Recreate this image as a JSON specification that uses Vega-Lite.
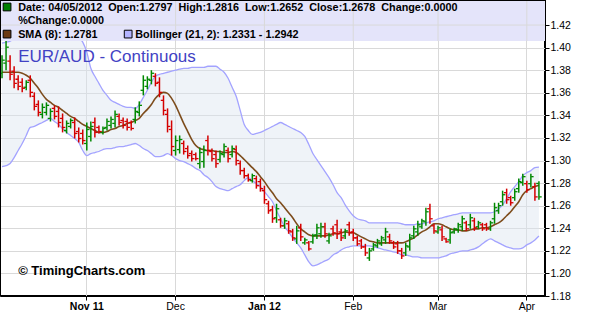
{
"$schema":"https://vega.github.io/schema/vega-lite/v6.json",
"width":545,"height":296,"autosize":"none",
"padding":{"left":0,"top":0,"right":47,"bottom":36},
"background":"#ffffff",
"config":{"font":"Liberation Sans","view":{"stroke":"#000000","strokeWidth":2},
 "axisX":{"labelAngle":0,"labelFontSize":10.5,"labelColor":"#000000","labelPadding":1,"tickColor":"#000000","tickSize":4,"domainColor":"#000000","gridColor":"#d9d9d9","bandPosition":0.5},
 "axisY":{"labelFontSize":10.5,"labelColor":"#000000","labelPadding":1,"tickColor":"#000000","tickSize":4,"domainColor":"#000000","gridColor":"#d9d9d9"}},
"datasets":{"bars":[
{"d":"2011-10-03","k":"u","o":1.3773,"h":1.3933,"l":1.3729,"c":1.3889,"s":1.3782,"bu":1.4040,"bl":1.2946},
{"d":"2011-10-04","k":"u","o":1.3862,"h":1.4075,"l":1.3800,"c":1.4004,"s":1.3782,"bu":1.4049,"bl":1.2955},
{"d":"2011-10-05","k":"d","o":1.3880,"h":1.3933,"l":1.3711,"c":1.3764,"s":1.3782,"bu":1.4057,"bl":1.2973},
{"d":"2011-10-06","k":"d","o":1.3791,"h":1.3835,"l":1.3640,"c":1.3684,"s":1.3782,"bu":1.4084,"bl":1.3026},
{"d":"2011-10-07","k":"d","o":1.3720,"h":1.3755,"l":1.3622,"c":1.3657,"s":1.3782,"bu":1.4093,"bl":1.3089},
{"d":"2011-10-10","k":"d","o":1.3693,"h":1.3729,"l":1.3604,"c":1.3640,"s":1.3773,"bu":1.4102,"bl":1.3151},
{"d":"2011-10-11","k":"u","o":1.3649,"h":1.3711,"l":1.3622,"c":1.3693,"s":1.3755,"bu":1.4120,"bl":1.3222},
{"d":"2011-10-12","k":"d","o":1.3711,"h":1.3755,"l":1.3560,"c":1.3604,"s":1.3729,"bu":1.4129,"bl":1.3293},
{"d":"2011-10-13","k":"d","o":1.3569,"h":1.3604,"l":1.3444,"c":1.3480,"s":1.3684,"bu":1.4138,"bl":1.3302},
{"d":"2011-10-14","k":"d","o":1.3497,"h":1.3533,"l":1.3391,"c":1.3426,"s":1.3640,"bu":1.4146,"bl":1.3320},
{"d":"2011-10-17","k":"u","o":1.3409,"h":1.3506,"l":1.3373,"c":1.3471,"s":1.3586,"bu":1.4146,"bl":1.3337},
{"d":"2011-10-18","k":"u","o":1.3426,"h":1.3515,"l":1.3400,"c":1.3489,"s":1.3542,"bu":1.4155,"bl":1.3355},
{"d":"2011-10-19","k":"u","o":1.3373,"h":1.3462,"l":1.3346,"c":1.3435,"s":1.3515,"bu":1.4155,"bl":1.3373},
{"d":"2011-10-20","k":"d","o":1.3462,"h":1.3489,"l":1.3364,"c":1.3391,"s":1.3489,"bu":1.4155,"bl":1.3346},
{"d":"2011-10-21","k":"d","o":1.3435,"h":1.3480,"l":1.3293,"c":1.3337,"s":1.3471,"bu":1.4146,"bl":1.3320},
{"d":"2011-10-24","k":"d","o":1.3373,"h":1.3417,"l":1.3249,"c":1.3293,"s":1.3444,"bu":1.4138,"bl":1.3284},
{"d":"2011-10-25","k":"u","o":1.3266,"h":1.3355,"l":1.3240,"c":1.3329,"s":1.3417,"bu":1.4138,"bl":1.3249},
{"d":"2011-10-26","k":"u","o":1.3302,"h":1.3373,"l":1.3284,"c":1.3355,"s":1.3391,"bu":1.4129,"bl":1.3222},
{"d":"2011-10-27","k":"d","o":1.3337,"h":1.3382,"l":1.3195,"c":1.3240,"s":1.3373,"bu":1.4111,"bl":1.3195},
{"d":"2011-10-28","k":"d","o":1.3257,"h":1.3293,"l":1.3160,"c":1.3195,"s":1.3346,"bu":1.4093,"bl":1.3160},
{"d":"2011-10-31","k":"d","o":1.3240,"h":1.3275,"l":1.3142,"c":1.3177,"s":1.3320,"bu":1.4049,"bl":1.3089},
{"d":"2011-11-01","k":"u","o":1.3151,"h":1.3337,"l":1.3089,"c":1.3275,"s":1.3302,"bu":1.3960,"bl":1.3044},
{"d":"2011-11-02","k":"u","o":1.3213,"h":1.3346,"l":1.3169,"c":1.3302,"s":1.3284,"bu":1.3817,"bl":1.3062},
{"d":"2011-11-03","k":"d","o":1.3337,"h":1.3382,"l":1.3204,"c":1.3249,"s":1.3266,"bu":1.3746,"bl":1.3071},
{"d":"2011-11-04","k":"d","o":1.3293,"h":1.3311,"l":1.3240,"c":1.3257,"s":1.3249,"bu":1.3684,"bl":1.3080},
{"d":"2011-11-07","k":"u","o":1.3249,"h":1.3302,"l":1.3231,"c":1.3284,"s":1.3249,"bu":1.3622,"bl":1.3097},
{"d":"2011-11-08","k":"u","o":1.3293,"h":1.3373,"l":1.3266,"c":1.3346,"s":1.3257,"bu":1.3577,"bl":1.3106},
{"d":"2011-11-09","k":"u","o":1.3311,"h":1.3391,"l":1.3284,"c":1.3364,"s":1.3275,"bu":1.3533,"bl":1.3106},
{"d":"2011-11-10","k":"u","o":1.3329,"h":1.3444,"l":1.3293,"c":1.3409,"s":1.3284,"bu":1.3515,"bl":1.3115},
{"d":"2011-11-11","k":"d","o":1.3391,"h":1.3417,"l":1.3311,"c":1.3337,"s":1.3302,"bu":1.3497,"bl":1.3124},
{"d":"2011-11-14","k":"d","o":1.3355,"h":1.3382,"l":1.3284,"c":1.3311,"s":1.3311,"bu":1.3480,"bl":1.3124},
{"d":"2011-11-15","k":"d","o":1.3346,"h":1.3373,"l":1.3266,"c":1.3293,"s":1.3329,"bu":1.3471,"bl":1.3133},
{"d":"2011-11-16","k":"d","o":1.3337,"h":1.3355,"l":1.3266,"c":1.3284,"s":1.3337,"bu":1.3471,"bl":1.3142},
{"d":"2011-11-17","k":"u","o":1.3364,"h":1.3471,"l":1.3329,"c":1.3435,"s":1.3355,"bu":1.3462,"bl":1.3151},
{"d":"2011-11-18","k":"u","o":1.3426,"h":1.3524,"l":1.3391,"c":1.3489,"s":1.3373,"bu":1.3497,"bl":1.3133},
{"d":"2011-11-21","k":"u","o":1.3622,"h":1.3755,"l":1.3577,"c":1.3711,"s":1.3417,"bu":1.3560,"bl":1.3106},
{"d":"2011-11-22","k":"u","o":1.3657,"h":1.3746,"l":1.3631,"c":1.3720,"s":1.3453,"bu":1.3622,"bl":1.3089},
{"d":"2011-11-23","k":"u","o":1.3711,"h":1.3800,"l":1.3675,"c":1.3773,"s":1.3497,"bu":1.3693,"bl":1.3062},
{"d":"2011-11-24","k":"d","o":1.3746,"h":1.3773,"l":1.3657,"c":1.3684,"s":1.3551,"bu":1.3746,"bl":1.3035},
{"d":"2011-11-25","k":"d","o":1.3693,"h":1.3737,"l":1.3560,"c":1.3604,"s":1.3586,"bu":1.3764,"bl":1.3035},
{"d":"2011-11-28","k":"d","o":1.3533,"h":1.3577,"l":1.3400,"c":1.3444,"s":1.3604,"bu":1.3773,"bl":1.3044},
{"d":"2011-11-29","k":"d","o":1.3409,"h":1.3462,"l":1.3249,"c":1.3302,"s":1.3595,"bu":1.3782,"bl":1.3062},
{"d":"2011-11-30","k":"d","o":1.3275,"h":1.3355,"l":1.3044,"c":1.3124,"s":1.3551,"bu":1.3791,"bl":1.3044},
{"d":"2011-12-01","k":"u","o":1.3089,"h":1.3222,"l":1.3044,"c":1.3177,"s":1.3489,"bu":1.3800,"bl":1.3017},
{"d":"2011-12-02","k":"u","o":1.3097,"h":1.3222,"l":1.3062,"c":1.3186,"s":1.3409,"bu":1.3809,"bl":1.3000},
{"d":"2011-12-05","k":"d","o":1.3151,"h":1.3177,"l":1.3053,"c":1.3080,"s":1.3329,"bu":1.3817,"bl":1.2991},
{"d":"2011-12-06","k":"d","o":1.3106,"h":1.3133,"l":1.3017,"c":1.3044,"s":1.3257,"bu":1.3817,"bl":1.2973},
{"d":"2011-12-07","k":"d","o":1.3062,"h":1.3089,"l":1.2991,"c":1.3017,"s":1.3186,"bu":1.3826,"bl":1.2955},
{"d":"2011-12-08","k":"d","o":1.3053,"h":1.3071,"l":1.3000,"c":1.3017,"s":1.3133,"bu":1.3826,"bl":1.2929},
{"d":"2011-12-09","k":"u","o":1.2973,"h":1.3115,"l":1.2929,"c":1.3071,"s":1.3106,"bu":1.3826,"bl":1.2911},
{"d":"2011-12-12","k":"u","o":1.2991,"h":1.3133,"l":1.2937,"c":1.3089,"s":1.3097,"bu":1.3826,"bl":1.2875},
{"d":"2011-12-13","k":"d","o":1.3177,"h":1.3222,"l":1.3044,"c":1.3089,"s":1.3089,"bu":1.3835,"bl":1.2849},
{"d":"2011-12-14","k":"d","o":1.3080,"h":1.3106,"l":1.2991,"c":1.3017,"s":1.3089,"bu":1.3835,"bl":1.2813},
{"d":"2011-12-15","k":"d","o":1.3053,"h":1.3089,"l":1.2937,"c":1.2973,"s":1.3080,"bu":1.3835,"bl":1.2769},
{"d":"2011-12-16","k":"u","o":1.3009,"h":1.3089,"l":1.2982,"c":1.3062,"s":1.3080,"bu":1.3809,"bl":1.2751},
{"d":"2011-12-19","k":"u","o":1.3053,"h":1.3151,"l":1.3026,"c":1.3124,"s":1.3071,"bu":1.3782,"bl":1.2742},
{"d":"2011-12-20","k":"d","o":1.3089,"h":1.3115,"l":1.2982,"c":1.3017,"s":1.3071,"bu":1.3729,"bl":1.2733},
{"d":"2011-12-21","k":"u","o":1.3053,"h":1.3133,"l":1.3026,"c":1.3106,"s":1.3080,"bu":1.3649,"bl":1.2751},
{"d":"2011-12-22","k":"d","o":1.3097,"h":1.3133,"l":1.2955,"c":1.3000,"s":1.3071,"bu":1.3569,"bl":1.2769},
{"d":"2011-12-23","k":"d","o":1.2973,"h":1.3000,"l":1.2875,"c":1.2911,"s":1.3044,"bu":1.3444,"bl":1.2786},
{"d":"2011-12-26","k":"d","o":1.2911,"h":1.2937,"l":1.2840,"c":1.2866,"s":1.3009,"bu":1.3320,"bl":1.2822},
{"d":"2011-12-27","k":"d","o":1.2866,"h":1.2884,"l":1.2813,"c":1.2831,"s":1.2973,"bu":1.3266,"bl":1.2849},
{"d":"2011-12-28","k":"u","o":1.2822,"h":1.2884,"l":1.2804,"c":1.2866,"s":1.2937,"bu":1.3231,"bl":1.2822},
{"d":"2011-12-29","k":"d","o":1.2840,"h":1.2866,"l":1.2751,"c":1.2777,"s":1.2902,"bu":1.3240,"bl":1.2795},
{"d":"2011-12-30","k":"d","o":1.2813,"h":1.2840,"l":1.2724,"c":1.2751,"s":1.2857,"bu":1.3249,"bl":1.2769},
{"d":"2012-01-02","k":"d","o":1.2733,"h":1.2777,"l":1.2617,"c":1.2653,"s":1.2813,"bu":1.3266,"bl":1.2724},
{"d":"2012-01-03","k":"d","o":1.2617,"h":1.2644,"l":1.2528,"c":1.2555,"s":1.2760,"bu":1.3284,"bl":1.2680},
{"d":"2012-01-04","k":"d","o":1.2564,"h":1.2600,"l":1.2448,"c":1.2484,"s":1.2715,"bu":1.3302,"bl":1.2635},
{"d":"2012-01-05","k":"u","o":1.2493,"h":1.2617,"l":1.2448,"c":1.2573,"s":1.2662,"bu":1.3320,"bl":1.2555},
{"d":"2012-01-06","k":"d","o":1.2475,"h":1.2493,"l":1.2404,"c":1.2422,"s":1.2626,"bu":1.3337,"bl":1.2484},
{"d":"2012-01-09","k":"u","o":1.2422,"h":1.2493,"l":1.2395,"c":1.2466,"s":1.2582,"bu":1.3320,"bl":1.2413},
{"d":"2012-01-10","k":"d","o":1.2440,"h":1.2466,"l":1.2351,"c":1.2377,"s":1.2537,"bu":1.3302,"bl":1.2368},
{"d":"2012-01-11","k":"d","o":1.2368,"h":1.2395,"l":1.2288,"c":1.2315,"s":1.2493,"bu":1.3284,"bl":1.2315},
{"d":"2012-01-12","k":"u","o":1.2306,"h":1.2422,"l":1.2262,"c":1.2377,"s":1.2440,"bu":1.3266,"bl":1.2271},
{"d":"2012-01-13","k":"d","o":1.2404,"h":1.2440,"l":1.2288,"c":1.2324,"s":1.2395,"bu":1.3249,"bl":1.2226},
{"d":"2012-01-16","k":"u","o":1.2271,"h":1.2315,"l":1.2253,"c":1.2297,"s":1.2368,"bu":1.3213,"bl":1.2164},
{"d":"2012-01-17","k":"d","o":1.2271,"h":1.2288,"l":1.2200,"c":1.2217,"s":1.2342,"bu":1.3142,"bl":1.2102},
{"d":"2012-01-18","k":"u","o":1.2280,"h":1.2351,"l":1.2262,"c":1.2333,"s":1.2333,"bu":1.3062,"bl":1.2066},
{"d":"2012-01-19","k":"u","o":1.2342,"h":1.2440,"l":1.2306,"c":1.2404,"s":1.2333,"bu":1.3009,"bl":1.2075},
{"d":"2012-01-20","k":"u","o":1.2351,"h":1.2448,"l":1.2315,"c":1.2413,"s":1.2333,"bu":1.2955,"bl":1.2093},
{"d":"2012-01-23","k":"d","o":1.2413,"h":1.2448,"l":1.2315,"c":1.2351,"s":1.2333,"bu":1.2902,"bl":1.2111},
{"d":"2012-01-24","k":"u","o":1.2288,"h":1.2360,"l":1.2262,"c":1.2333,"s":1.2342,"bu":1.2849,"bl":1.2128},
{"d":"2012-01-25","k":"d","o":1.2395,"h":1.2422,"l":1.2333,"c":1.2360,"s":1.2351,"bu":1.2786,"bl":1.2164},
{"d":"2012-01-26","k":"d","o":1.2431,"h":1.2475,"l":1.2306,"c":1.2351,"s":1.2351,"bu":1.2715,"bl":1.2182},
{"d":"2012-01-27","k":"d","o":1.2368,"h":1.2395,"l":1.2288,"c":1.2315,"s":1.2360,"bu":1.2671,"bl":1.2208},
{"d":"2012-01-30","k":"u","o":1.2333,"h":1.2395,"l":1.2306,"c":1.2377,"s":1.2368,"bu":1.2608,"bl":1.2226},
{"d":"2012-01-31","k":"d","o":1.2431,"h":1.2457,"l":1.2333,"c":1.2360,"s":1.2360,"bu":1.2555,"bl":1.2235},
{"d":"2012-02-01","k":"d","o":1.2368,"h":1.2395,"l":1.2288,"c":1.2315,"s":1.2360,"bu":1.2511,"bl":1.2244},
{"d":"2012-02-02","k":"d","o":1.2315,"h":1.2333,"l":1.2244,"c":1.2262,"s":1.2342,"bu":1.2484,"bl":1.2244},
{"d":"2012-02-03","k":"d","o":1.2288,"h":1.2306,"l":1.2217,"c":1.2235,"s":1.2324,"bu":1.2475,"bl":1.2244},
{"d":"2012-02-06","k":"d","o":1.2235,"h":1.2262,"l":1.2155,"c":1.2182,"s":1.2306,"bu":1.2466,"bl":1.2244},
{"d":"2012-02-07","k":"u","o":1.2137,"h":1.2226,"l":1.2111,"c":1.2200,"s":1.2288,"bu":1.2448,"bl":1.2244},
{"d":"2012-02-08","k":"u","o":1.2217,"h":1.2271,"l":1.2200,"c":1.2253,"s":1.2280,"bu":1.2448,"bl":1.2235},
{"d":"2012-02-09","k":"u","o":1.2244,"h":1.2306,"l":1.2226,"c":1.2288,"s":1.2271,"bu":1.2448,"bl":1.2226},
{"d":"2012-02-10","k":"u","o":1.2262,"h":1.2333,"l":1.2244,"c":1.2315,"s":1.2271,"bu":1.2448,"bl":1.2217},
{"d":"2012-02-13","k":"u","o":1.2297,"h":1.2404,"l":1.2262,"c":1.2368,"s":1.2271,"bu":1.2448,"bl":1.2208},
{"d":"2012-02-14","k":"d","o":1.2324,"h":1.2351,"l":1.2262,"c":1.2288,"s":1.2271,"bu":1.2448,"bl":1.2200},
{"d":"2012-02-15","k":"d","o":1.2271,"h":1.2288,"l":1.2217,"c":1.2235,"s":1.2271,"bu":1.2448,"bl":1.2191},
{"d":"2012-02-16","k":"d","o":1.2262,"h":1.2288,"l":1.2173,"c":1.2200,"s":1.2271,"bu":1.2448,"bl":1.2182},
{"d":"2012-02-17","k":"d","o":1.2200,"h":1.2226,"l":1.2128,"c":1.2155,"s":1.2271,"bu":1.2440,"bl":1.2164},
{"d":"2012-02-20","k":"u","o":1.2182,"h":1.2271,"l":1.2155,"c":1.2244,"s":1.2280,"bu":1.2431,"bl":1.2164},
{"d":"2012-02-21","k":"u","o":1.2235,"h":1.2351,"l":1.2200,"c":1.2315,"s":1.2297,"bu":1.2431,"bl":1.2155},
{"d":"2012-02-22","k":"u","o":1.2333,"h":1.2422,"l":1.2306,"c":1.2395,"s":1.2315,"bu":1.2431,"bl":1.2146},
{"d":"2012-02-23","k":"u","o":1.2368,"h":1.2466,"l":1.2333,"c":1.2431,"s":1.2342,"bu":1.2440,"bl":1.2146},
{"d":"2012-02-24","k":"u","o":1.2413,"h":1.2484,"l":1.2395,"c":1.2466,"s":1.2368,"bu":1.2440,"bl":1.2137},
{"d":"2012-02-27","k":"u","o":1.2457,"h":1.2582,"l":1.2422,"c":1.2546,"s":1.2386,"bu":1.2448,"bl":1.2137},
{"d":"2012-02-28","k":"d","o":1.2573,"h":1.2617,"l":1.2440,"c":1.2484,"s":1.2413,"bu":1.2457,"bl":1.2137},
{"d":"2012-02-29","k":"d","o":1.2422,"h":1.2440,"l":1.2351,"c":1.2377,"s":1.2440,"bu":1.2466,"bl":1.2137},
{"d":"2012-03-01","k":"u","o":1.2368,"h":1.2422,"l":1.2351,"c":1.2404,"s":1.2440,"bu":1.2484,"bl":1.2137},
{"d":"2012-03-02","k":"d","o":1.2386,"h":1.2422,"l":1.2288,"c":1.2324,"s":1.2431,"bu":1.2493,"bl":1.2146},
{"d":"2012-03-05","k":"d","o":1.2306,"h":1.2315,"l":1.2271,"c":1.2280,"s":1.2413,"bu":1.2502,"bl":1.2155},
{"d":"2012-03-06","k":"u","o":1.2297,"h":1.2395,"l":1.2262,"c":1.2360,"s":1.2395,"bu":1.2511,"bl":1.2173},
{"d":"2012-03-07","k":"u","o":1.2368,"h":1.2404,"l":1.2351,"c":1.2395,"s":1.2386,"bu":1.2520,"bl":1.2182},
{"d":"2012-03-08","k":"u","o":1.2386,"h":1.2448,"l":1.2360,"c":1.2431,"s":1.2386,"bu":1.2528,"bl":1.2191},
{"d":"2012-03-09","k":"u","o":1.2413,"h":1.2511,"l":1.2377,"c":1.2484,"s":1.2377,"bu":1.2537,"bl":1.2200},
{"d":"2012-03-12","k":"d","o":1.2448,"h":1.2466,"l":1.2377,"c":1.2395,"s":1.2377,"bu":1.2537,"bl":1.2200},
{"d":"2012-03-13","k":"u","o":1.2431,"h":1.2528,"l":1.2395,"c":1.2493,"s":1.2386,"bu":1.2537,"bl":1.2208},
{"d":"2012-03-14","k":"d","o":1.2466,"h":1.2493,"l":1.2377,"c":1.2404,"s":1.2395,"bu":1.2537,"bl":1.2217},
{"d":"2012-03-15","k":"u","o":1.2413,"h":1.2466,"l":1.2395,"c":1.2448,"s":1.2395,"bu":1.2537,"bl":1.2235},
{"d":"2012-03-16","k":"d","o":1.2431,"h":1.2448,"l":1.2377,"c":1.2395,"s":1.2404,"bu":1.2537,"bl":1.2262},
{"d":"2012-03-19","k":"d","o":1.2431,"h":1.2448,"l":1.2377,"c":1.2395,"s":1.2404,"bu":1.2537,"bl":1.2288},
{"d":"2012-03-20","k":"u","o":1.2395,"h":1.2466,"l":1.2377,"c":1.2448,"s":1.2413,"bu":1.2537,"bl":1.2306},
{"d":"2012-03-21","k":"u","o":1.2484,"h":1.2626,"l":1.2440,"c":1.2582,"s":1.2431,"bu":1.2546,"bl":1.2288},
{"d":"2012-03-22","k":"u","o":1.2555,"h":1.2626,"l":1.2528,"c":1.2600,"s":1.2448,"bu":1.2573,"bl":1.2271},
{"d":"2012-03-23","k":"u","o":1.2635,"h":1.2733,"l":1.2600,"c":1.2697,"s":1.2475,"bu":1.2608,"bl":1.2253},
{"d":"2012-03-26","k":"d","o":1.2715,"h":1.2751,"l":1.2617,"c":1.2653,"s":1.2511,"bu":1.2662,"bl":1.2235},
{"d":"2012-03-27","k":"d","o":1.2671,"h":1.2688,"l":1.2600,"c":1.2626,"s":1.2546,"bu":1.2724,"bl":1.2226},
{"d":"2012-03-28","k":"u","o":1.2671,"h":1.2751,"l":1.2644,"c":1.2724,"s":1.2591,"bu":1.2769,"bl":1.2217},
{"d":"2012-03-29","k":"u","o":1.2751,"h":1.2840,"l":1.2715,"c":1.2813,"s":1.2635,"bu":1.2813,"bl":1.2217},
{"d":"2012-03-30","k":"u","o":1.2804,"h":1.2884,"l":1.2777,"c":1.2857,"s":1.2697,"bu":1.2866,"bl":1.2226},
{"d":"2012-04-02","k":"d","o":1.2795,"h":1.2822,"l":1.2715,"c":1.2742,"s":1.2733,"bu":1.2893,"bl":1.2253},
{"d":"2012-04-03","k":"u","o":1.2795,"h":1.2884,"l":1.2760,"c":1.2857,"s":1.2751,"bu":1.2911,"bl":1.2271},
{"d":"2012-04-04","k":"d","o":1.2769,"h":1.2804,"l":1.2644,"c":1.2678,"s":1.2769,"bu":1.2937,"bl":1.2297},
{"d":"2012-04-05","k":"u","o":1.2797,"h":1.2816,"l":1.2652,"c":1.2678,"s":1.2781,"bu":1.2942,"bl":1.2331}
]},
"layer":[
{"data":{"name":"bars"},"mark":{"type":"area","color":"#dbe4ef","fillOpacity":0.45,"interpolate":"monotone"},
 "encoding":{
  "x":{"field":"d","type":"ordinal","sort":"ascending","bandPosition":0.5,"scale":{"type":"band","paddingInner":0,"paddingOuter":0.5,"align":0,"round":false},
   "axis":{"title":null,"grid":true,"values":["2011-11-01","2011-12-01","2012-01-02","2012-02-01","2012-03-01","2012-04-02"],"labelExpr":"datum.value == '2011-11-01' ? 'Nov 11' : datum.value == '2011-12-01' ? 'Dec' : datum.value == '2012-01-02' ? 'Jan 12' : datum.value == '2012-02-01' ? 'Feb' : datum.value == '2012-03-01' ? 'Mar' : 'Apr'","labelFontWeight":{"condition":{"test":"datum.value == '2011-11-01' || datum.value == '2012-01-02'","value":"bold"},"value":"normal"}}},
  "y":{"field":"bl","type":"quantitative","scale":{"domain":[1.18,1.4422],"nice":false,"zero":false},
   "axis":{"orient":"right","title":null,"grid":true,"values":[1.18,1.2,1.22,1.24,1.26,1.28,1.3,1.32,1.34,1.36,1.38,1.4,1.42],"format":".2f"}},
  "y2":{"field":"bu"}}},
{"data":{"name":"bars"},"mark":{"type":"line","color":"#a3a3ff","strokeWidth":1.3,"interpolate":"monotone"},
 "encoding":{
  "x":{"field":"d","type":"ordinal","sort":"ascending","bandPosition":0.5,"scale":{"type":"band","paddingInner":0,"paddingOuter":0.5,"align":0,"round":false},
   "axis":{"title":null,"grid":true,"values":["2011-11-01","2011-12-01","2012-01-02","2012-02-01","2012-03-01","2012-04-02"],"labelExpr":"datum.value == '2011-11-01' ? 'Nov 11' : datum.value == '2011-12-01' ? 'Dec' : datum.value == '2012-01-02' ? 'Jan 12' : datum.value == '2012-02-01' ? 'Feb' : datum.value == '2012-03-01' ? 'Mar' : 'Apr'","labelFontWeight":{"condition":{"test":"datum.value == '2011-11-01' || datum.value == '2012-01-02'","value":"bold"},"value":"normal"}}},
  "y":{"field":"bu","type":"quantitative","scale":{"domain":[1.18,1.4422],"nice":false,"zero":false},
   "axis":{"orient":"right","title":null,"grid":true,"values":[1.18,1.2,1.22,1.24,1.26,1.28,1.3,1.32,1.34,1.36,1.38,1.4,1.42],"format":".2f"}}}},
{"data":{"name":"bars"},"mark":{"type":"line","color":"#a3a3ff","strokeWidth":1.3,"interpolate":"monotone"},
 "encoding":{
  "x":{"field":"d","type":"ordinal","sort":"ascending","bandPosition":0.5,"scale":{"type":"band","paddingInner":0,"paddingOuter":0.5,"align":0,"round":false},
   "axis":{"title":null,"grid":true,"values":["2011-11-01","2011-12-01","2012-01-02","2012-02-01","2012-03-01","2012-04-02"],"labelExpr":"datum.value == '2011-11-01' ? 'Nov 11' : datum.value == '2011-12-01' ? 'Dec' : datum.value == '2012-01-02' ? 'Jan 12' : datum.value == '2012-02-01' ? 'Feb' : datum.value == '2012-03-01' ? 'Mar' : 'Apr'","labelFontWeight":{"condition":{"test":"datum.value == '2011-11-01' || datum.value == '2012-01-02'","value":"bold"},"value":"normal"}}},
  "y":{"field":"bl","type":"quantitative","scale":{"domain":[1.18,1.4422],"nice":false,"zero":false},
   "axis":{"orient":"right","title":null,"grid":true,"values":[1.18,1.2,1.22,1.24,1.26,1.28,1.3,1.32,1.34,1.36,1.38,1.4,1.42],"format":".2f"}}}},
{"data":{"name":"bars"},"mark":{"type":"line","color":"#7d4c1c","strokeWidth":1.6,"interpolate":"monotone"},
 "encoding":{
  "x":{"field":"d","type":"ordinal","sort":"ascending","bandPosition":0.5,"scale":{"type":"band","paddingInner":0,"paddingOuter":0.5,"align":0,"round":false},
   "axis":{"title":null,"grid":true,"values":["2011-11-01","2011-12-01","2012-01-02","2012-02-01","2012-03-01","2012-04-02"],"labelExpr":"datum.value == '2011-11-01' ? 'Nov 11' : datum.value == '2011-12-01' ? 'Dec' : datum.value == '2012-01-02' ? 'Jan 12' : datum.value == '2012-02-01' ? 'Feb' : datum.value == '2012-03-01' ? 'Mar' : 'Apr'","labelFontWeight":{"condition":{"test":"datum.value == '2011-11-01' || datum.value == '2012-01-02'","value":"bold"},"value":"normal"}}},
  "y":{"field":"s","type":"quantitative","scale":{"domain":[1.18,1.4422],"nice":false,"zero":false},
   "axis":{"orient":"right","title":null,"grid":true,"values":[1.18,1.2,1.22,1.24,1.26,1.28,1.3,1.32,1.34,1.36,1.38,1.4,1.42],"format":".2f"}}}},
{"data":{"name":"bars"},"mark":{"type":"rule","strokeWidth":1.5},
 "encoding":{
  "x":{"field":"d","type":"ordinal","sort":"ascending","scale":{"type":"band","paddingInner":0,"paddingOuter":0.5,"align":0,"round":false},
   "axis":{"title":null,"grid":true,"values":["2011-11-01","2011-12-01","2012-01-02","2012-02-01","2012-03-01","2012-04-02"],"labelExpr":"datum.value == '2011-11-01' ? 'Nov 11' : datum.value == '2011-12-01' ? 'Dec' : datum.value == '2012-01-02' ? 'Jan 12' : datum.value == '2012-02-01' ? 'Feb' : datum.value == '2012-03-01' ? 'Mar' : 'Apr'","labelFontWeight":{"condition":{"test":"datum.value == '2011-11-01' || datum.value == '2012-01-02'","value":"bold"},"value":"normal"}}},
  "y":{"field":"h","type":"quantitative","scale":{"domain":[1.18,1.4422],"nice":false,"zero":false},
   "axis":{"orient":"right","title":null,"grid":true,"values":[1.18,1.2,1.22,1.24,1.26,1.28,1.3,1.32,1.34,1.36,1.38,1.4,1.42],"format":".2f"}},
  "y2":{"field":"l"},
  "color":{"field":"k","type":"nominal","scale":{"domain":["u","d"],"range":["#008800","#d40000"]},"legend":null}}},
{"data":{"name":"bars"},"mark":{"type":"tick","size":2.5,"thickness":1.3,"xOffset":-1.5,"opacity":1},
 "encoding":{
  "x":{"field":"d","type":"ordinal","sort":"ascending","scale":{"type":"band","paddingInner":0,"paddingOuter":0.5,"align":0,"round":false},
   "axis":{"title":null,"grid":true,"values":["2011-11-01","2011-12-01","2012-01-02","2012-02-01","2012-03-01","2012-04-02"],"labelExpr":"datum.value == '2011-11-01' ? 'Nov 11' : datum.value == '2011-12-01' ? 'Dec' : datum.value == '2012-01-02' ? 'Jan 12' : datum.value == '2012-02-01' ? 'Feb' : datum.value == '2012-03-01' ? 'Mar' : 'Apr'","labelFontWeight":{"condition":{"test":"datum.value == '2011-11-01' || datum.value == '2012-01-02'","value":"bold"},"value":"normal"}}},
  "y":{"field":"o","type":"quantitative","scale":{"domain":[1.18,1.4422],"nice":false,"zero":false},
   "axis":{"orient":"right","title":null,"grid":true,"values":[1.18,1.2,1.22,1.24,1.26,1.28,1.3,1.32,1.34,1.36,1.38,1.4,1.42],"format":".2f"}},
  "color":{"field":"k","type":"nominal","scale":{"domain":["u","d"],"range":["#008800","#d40000"]},"legend":null}}},
{"data":{"name":"bars"},"mark":{"type":"tick","size":2.5,"thickness":1.3,"xOffset":1.5,"opacity":1},
 "encoding":{
  "x":{"field":"d","type":"ordinal","sort":"ascending","scale":{"type":"band","paddingInner":0,"paddingOuter":0.5,"align":0,"round":false},
   "axis":{"title":null,"grid":true,"values":["2011-11-01","2011-12-01","2012-01-02","2012-02-01","2012-03-01","2012-04-02"],"labelExpr":"datum.value == '2011-11-01' ? 'Nov 11' : datum.value == '2011-12-01' ? 'Dec' : datum.value == '2012-01-02' ? 'Jan 12' : datum.value == '2012-02-01' ? 'Feb' : datum.value == '2012-03-01' ? 'Mar' : 'Apr'","labelFontWeight":{"condition":{"test":"datum.value == '2011-11-01' || datum.value == '2012-01-02'","value":"bold"},"value":"normal"}}},
  "y":{"field":"c","type":"quantitative","scale":{"domain":[1.18,1.4422],"nice":false,"zero":false},
   "axis":{"orient":"right","title":null,"grid":true,"values":[1.18,1.2,1.22,1.24,1.26,1.28,1.3,1.32,1.34,1.36,1.38,1.4,1.42],"format":".2f"}},
  "color":{"field":"k","type":"nominal","scale":{"domain":["u","d"],"range":["#008800","#d40000"]},"legend":null}}},
{"data":{"values":[{"lo":1.4058,"hi":1.4422}]},"mark":{"type":"rect","color":"#e4e4fa"},
 "encoding":{
  "y":{"field":"lo","type":"quantitative","scale":{"domain":[1.18,1.4422],"nice":false,"zero":false},
   "axis":{"orient":"right","title":null,"grid":true,"values":[1.18,1.2,1.22,1.24,1.26,1.28,1.3,1.32,1.34,1.36,1.38,1.4,1.42],"format":".2f"}},
  "y2":{"field":"hi"}}},
{"data":{"values":[{"g":1.42}]},"mark":{"type":"rule","color":"#d9d9d9","strokeWidth":1},
 "encoding":{
  "y":{"field":"g","type":"quantitative","scale":{"domain":[1.18,1.4422],"nice":false,"zero":false},
   "axis":{"orient":"right","title":null,"grid":true,"values":[1.18,1.2,1.22,1.24,1.26,1.28,1.3,1.32,1.34,1.36,1.38,1.4,1.42],"format":".2f"}}}},
{"data":{"values":[{"d":"2011-11-01","lo":1.4058,"hi":1.4422},{"d":"2011-12-01","lo":1.4058,"hi":1.4422},{"d":"2012-01-02","lo":1.4058,"hi":1.4422},{"d":"2012-02-01","lo":1.4058,"hi":1.4422},{"d":"2012-03-01","lo":1.4058,"hi":1.4422},{"d":"2012-04-02","lo":1.4058,"hi":1.4422}]},
 "mark":{"type":"rule","color":"#d9d9d9","strokeWidth":1},
 "encoding":{
  "x":{"field":"d","type":"ordinal","sort":"ascending","scale":{"type":"band","paddingInner":0,"paddingOuter":0.5,"align":0,"round":false},
   "axis":{"title":null,"grid":true,"values":["2011-11-01","2011-12-01","2012-01-02","2012-02-01","2012-03-01","2012-04-02"],"labelExpr":"datum.value == '2011-11-01' ? 'Nov 11' : datum.value == '2011-12-01' ? 'Dec' : datum.value == '2012-01-02' ? 'Jan 12' : datum.value == '2012-02-01' ? 'Feb' : datum.value == '2012-03-01' ? 'Mar' : 'Apr'","labelFontWeight":{"condition":{"test":"datum.value == '2011-11-01' || datum.value == '2012-01-02'","value":"bold"},"value":"normal"}}},
  "y":{"field":"lo","type":"quantitative","scale":{"domain":[1.18,1.4422],"nice":false,"zero":false},
   "axis":{"orient":"right","title":null,"grid":true,"values":[1.18,1.2,1.22,1.24,1.26,1.28,1.3,1.32,1.34,1.36,1.38,1.4,1.42],"format":".2f"}},
  "y2":{"field":"hi"}}},
{"data":{"values":[{"top":1.4422}]},"mark":{"type":"rule","color":"#000000","strokeWidth":2},
 "encoding":{
  "y":{"field":"top","type":"quantitative","scale":{"domain":[1.18,1.4422],"nice":false,"zero":false},
   "axis":{"orient":"right","title":null,"grid":true,"values":[1.18,1.2,1.22,1.24,1.26,1.28,1.3,1.32,1.34,1.36,1.38,1.4,1.42],"format":".2f"}}}},
{"data":{"values":[{"d":"2011-10-03"}]},"mark":{"type":"rule","color":"#000000","strokeWidth":2},
 "encoding":{
  "x":{"field":"d","type":"ordinal","sort":"ascending","bandPosition":0,"scale":{"type":"band","paddingInner":0,"paddingOuter":0.5,"align":0,"round":false},
   "axis":{"title":null,"grid":true,"values":["2011-11-01","2011-12-01","2012-01-02","2012-02-01","2012-03-01","2012-04-02"],"labelExpr":"datum.value == '2011-11-01' ? 'Nov 11' : datum.value == '2011-12-01' ? 'Dec' : datum.value == '2012-01-02' ? 'Jan 12' : datum.value == '2012-02-01' ? 'Feb' : datum.value == '2012-03-01' ? 'Mar' : 'Apr'","labelFontWeight":{"condition":{"test":"datum.value == '2011-11-01' || datum.value == '2012-01-02'","value":"bold"},"value":"normal"}}}}},
{"data":{"values":[{"d":"2011-10-04","p":1.4360,"g":"ohlc"},{"d":"2011-10-04","p":1.4120,"g":"sma"},{"d":"2011-11-15","p":1.4120,"g":"boll"}]},
 "mark":{"type":"point","shape":"square","size":60,"filled":true,"stroke":"#000000","strokeWidth":1,"opacity":1,"xOffset":1},
 "encoding":{
  "x":{"field":"d","type":"ordinal","sort":"ascending","scale":{"type":"band","paddingInner":0,"paddingOuter":0.5,"align":0,"round":false},
   "axis":{"title":null,"grid":true,"values":["2011-11-01","2011-12-01","2012-01-02","2012-02-01","2012-03-01","2012-04-02"],"labelExpr":"datum.value == '2011-11-01' ? 'Nov 11' : datum.value == '2011-12-01' ? 'Dec' : datum.value == '2012-01-02' ? 'Jan 12' : datum.value == '2012-02-01' ? 'Feb' : datum.value == '2012-03-01' ? 'Mar' : 'Apr'","labelFontWeight":{"condition":{"test":"datum.value == '2011-11-01' || datum.value == '2012-01-02'","value":"bold"},"value":"normal"}}},
  "y":{"field":"p","type":"quantitative","scale":{"domain":[1.18,1.4422],"nice":false,"zero":false},
   "axis":{"orient":"right","title":null,"grid":true,"values":[1.18,1.2,1.22,1.24,1.26,1.28,1.3,1.32,1.34,1.36,1.38,1.4,1.42],"format":".2f"}},
  "fill":{"field":"g","type":"nominal","scale":{"domain":["ohlc","sma","boll"],"range":["#008000","#6b3a12","#b4b4ff"]},"legend":null}}},
{"data":{"values":[
  {"d":"2011-10-07","p":1.4351,"t":"Date: 04/05/2012\u00a0\u00a0Open:1.2797\u00a0\u00a0High:1.2816\u00a0\u00a0Low:1.2652\u00a0\u00a0Close:1.2678\u00a0\u00a0Change:0.0000"},
  {"d":"2011-10-07","p":1.4235,"t":"%Change:0.0000"},
  {"d":"2011-10-07","p":1.4111,"t":"SMA (8): 1.2781"},
  {"d":"2011-11-17","p":1.4111,"t":"Bollinger (21, 2): 1.2331 - 1.2942"}]},
 "mark":{"type":"text","align":"left","baseline":"middle","fontSize":10.8,"fontWeight":"bold","color":"#000000"},
 "encoding":{
  "x":{"field":"d","type":"ordinal","sort":"ascending","scale":{"type":"band","paddingInner":0,"paddingOuter":0.5,"align":0,"round":false},
   "axis":{"title":null,"grid":true,"values":["2011-11-01","2011-12-01","2012-01-02","2012-02-01","2012-03-01","2012-04-02"],"labelExpr":"datum.value == '2011-11-01' ? 'Nov 11' : datum.value == '2011-12-01' ? 'Dec' : datum.value == '2012-01-02' ? 'Jan 12' : datum.value == '2012-02-01' ? 'Feb' : datum.value == '2012-03-01' ? 'Mar' : 'Apr'","labelFontWeight":{"condition":{"test":"datum.value == '2011-11-01' || datum.value == '2012-01-02'","value":"bold"},"value":"normal"}}},
  "y":{"field":"p","type":"quantitative","scale":{"domain":[1.18,1.4422],"nice":false,"zero":false},
   "axis":{"orient":"right","title":null,"grid":true,"values":[1.18,1.2,1.22,1.24,1.26,1.28,1.3,1.32,1.34,1.36,1.38,1.4,1.42],"format":".2f"}},
  "text":{"field":"t"}}},
{"data":{"values":[{"d":"2011-10-07","p":1.3920,"t":"EUR/AUD - Continuous"}]},
 "mark":{"type":"text","align":"left","baseline":"middle","fontSize":17,"color":"#4242c4"},
 "encoding":{
  "x":{"field":"d","type":"ordinal","sort":"ascending","scale":{"type":"band","paddingInner":0,"paddingOuter":0.5,"align":0,"round":false},
   "axis":{"title":null,"grid":true,"values":["2011-11-01","2011-12-01","2012-01-02","2012-02-01","2012-03-01","2012-04-02"],"labelExpr":"datum.value == '2011-11-01' ? 'Nov 11' : datum.value == '2011-12-01' ? 'Dec' : datum.value == '2012-01-02' ? 'Jan 12' : datum.value == '2012-02-01' ? 'Feb' : datum.value == '2012-03-01' ? 'Mar' : 'Apr'","labelFontWeight":{"condition":{"test":"datum.value == '2011-11-01' || datum.value == '2012-01-02'","value":"bold"},"value":"normal"}}},
  "y":{"field":"p","type":"quantitative","scale":{"domain":[1.18,1.4422],"nice":false,"zero":false},
   "axis":{"orient":"right","title":null,"grid":true,"values":[1.18,1.2,1.22,1.24,1.26,1.28,1.3,1.32,1.34,1.36,1.38,1.4,1.42],"format":".2f"}},
  "text":{"field":"t"}}},
{"data":{"values":[{"d":"2011-10-07","p":1.2022,"t":"© TimingCharts.com"}]},
 "mark":{"type":"text","align":"left","baseline":"middle","fontSize":13,"fontWeight":"bold","color":"#000000"},
 "encoding":{
  "x":{"field":"d","type":"ordinal","sort":"ascending","scale":{"type":"band","paddingInner":0,"paddingOuter":0.5,"align":0,"round":false},
   "axis":{"title":null,"grid":true,"values":["2011-11-01","2011-12-01","2012-01-02","2012-02-01","2012-03-01","2012-04-02"],"labelExpr":"datum.value == '2011-11-01' ? 'Nov 11' : datum.value == '2011-12-01' ? 'Dec' : datum.value == '2012-01-02' ? 'Jan 12' : datum.value == '2012-02-01' ? 'Feb' : datum.value == '2012-03-01' ? 'Mar' : 'Apr'","labelFontWeight":{"condition":{"test":"datum.value == '2011-11-01' || datum.value == '2012-01-02'","value":"bold"},"value":"normal"}}},
  "y":{"field":"p","type":"quantitative","scale":{"domain":[1.18,1.4422],"nice":false,"zero":false},
   "axis":{"orient":"right","title":null,"grid":true,"values":[1.18,1.2,1.22,1.24,1.26,1.28,1.3,1.32,1.34,1.36,1.38,1.4,1.42],"format":".2f"}},
  "text":{"field":"t"}}}
]
}
